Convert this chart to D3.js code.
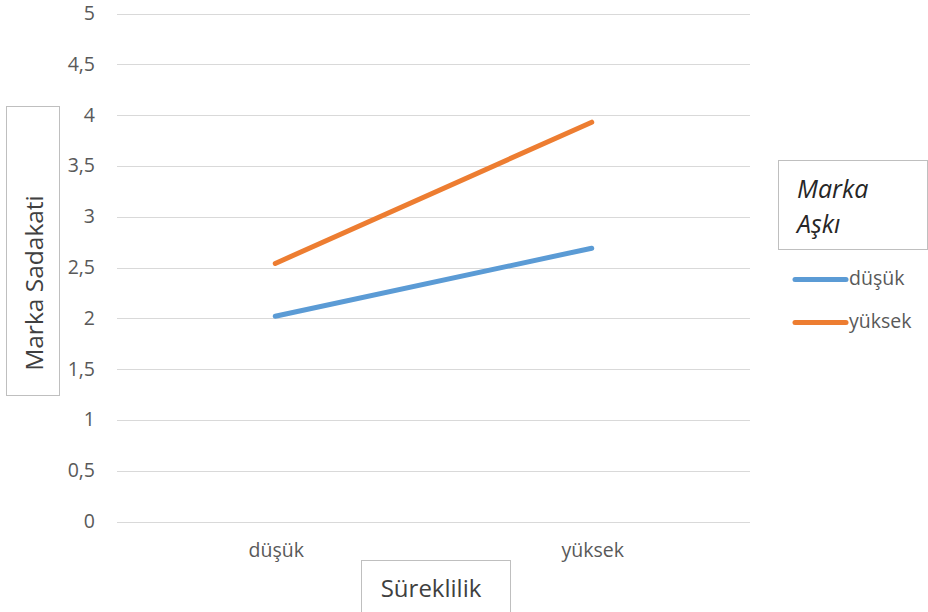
<!DOCTYPE html>
<html>
<head>
<meta charset="utf-8">
<script src="https://cdn.jsdelivr.net/npm/d3@7"></script>
<style>
  html, body { margin: 0; padding: 0; background: #fff; }
  svg { display: block; font-family: "Open Sans", "Noto Sans", sans-serif; }
  .tick-label { fill: #595959; font-size: 19.5px; }
  .box { fill: #fff; stroke: #bfbfbf; stroke-width: 1; }
  .grid line { stroke: #d9d9d9; stroke-width: 1; }
  .series { fill: none; stroke-width: 5; stroke-linecap: round; }
</style>
</head>
<body>
<svg id="chart" width="928" height="612"></svg>
<script>
/* global d3 */

const categories = ["düşük", "yüksek"];
const seriesNames = ["düşük", "yüksek"];
const lowValues = [2.02, 2.69];
const highValues = [2.54, 3.93];
const yTicks = [0, 0.5, 1, 1.5, 2, 2.5, 3, 3.5, 4, 4.5, 5];
const colors = ["#5b9bd5", "#ed7d31"];

const series = [
  { name: seriesNames[0], values: lowValues, color: colors[0] },
  { name: seriesNames[1], values: highValues, color: colors[1] },
];

const svg = d3.select("#chart");
const plot = { left: 117, right: 750, top: 13.5, bottom: 521.5 };

const x = d3.scaleBand().domain(categories).range([plot.left, plot.right]);
const y = d3.scaleLinear().domain([0, 5]).range([plot.bottom, plot.top]);
const fmt = (d) => String(d).replace(".", ",");

// gridlines
svg.append("g")
  .attr("class", "grid")
  .selectAll("line")
  .data(yTicks)
  .join("line")
  .attr("x1", plot.left)
  .attr("x2", plot.right)
  .attr("y1", (d) => Math.round(y(d)) + 0.5)
  .attr("y2", (d) => Math.round(y(d)) + 0.5);

svg.append("g")
  .selectAll("text")
  .data(yTicks)
  .join("text")
  .attr("class", "tick-label")
  .attr("x", 95)
  .attr("y", (d) => y(d) - 1)
  .attr("text-anchor", "end")
  .attr("dominant-baseline", "central")
  .text(fmt);

svg.append("g")
  .selectAll("text")
  .data(categories)
  .join("text")
  .attr("class", "tick-label")
  .attr("x", (d) => x(d) + x.bandwidth() / 2 + 1)
  .attr("y", 549)
  .attr("text-anchor", "middle")
  .attr("dominant-baseline", "central")
  .text((d) => d);

// lines
const line = d3.line()
  .x((d, i) => x(categories[i]) + x.bandwidth() / 2)
  .y((d) => y(d));

svg.append("g")
  .selectAll("path")
  .data(series)
  .join("path")
  .attr("class", "series")
  .attr("stroke", (d) => d.color)
  .attr("d", (d) => line(d.values));

// y axis title box
svg.append("rect").attr("class", "box")
  .attr("x", 6.5).attr("y", 106.5).attr("width", 53).attr("height", 289);
svg.append("text")
  .attr("transform", "translate(33,283) rotate(-90)")
  .attr("text-anchor", "middle")
  .attr("dominant-baseline", "central")
  .attr("fill", "#404040")
  .style("font-size", "24.5px")
  .text("Marka Sadakati");

// x axis title box
svg.append("rect").attr("class", "box")
  .attr("x", 361.5).attr("y", 560.5).attr("width", 149).attr("height", 52);
svg.append("text")
  .attr("x", 431)
  .attr("y", 587)
  .attr("text-anchor", "middle")
  .attr("dominant-baseline", "central")
  .attr("fill", "#404040")
  .style("font-size", "24px")
  .text("Süreklilik");

// legend
svg.append("rect").attr("class", "box")
  .attr("x", 778.5).attr("y", 160.5).attr("width", 149).attr("height", 89);
svg.append("text")
  .attr("x", 797)
  .attr("y", 188)
  .attr("dominant-baseline", "central")
  .attr("fill", "#262626")
  .style("font-size", "25px")
  .style("font-style", "italic")
  .text("Marka");
svg.append("text")
  .attr("x", 797)
  .attr("y", 223)
  .attr("dominant-baseline", "central")
  .attr("fill", "#262626")
  .style("font-size", "25px")
  .style("font-style", "italic")
  .text("Aşkı");

const legendItems = svg.append("g")
  .selectAll("g")
  .data(series)
  .join("g")
  .attr("transform", (d, i) => `translate(0,${279.5 + i * 43})`);

legendItems.append("line")
  .attr("x1", 795).attr("x2", 846)
  .attr("y1", 0).attr("y2", 0)
  .attr("stroke", (d) => d.color)
  .attr("stroke-width", 5)
  .attr("stroke-linecap", "round");

legendItems.append("text")
  .attr("class", "tick-label")
  .attr("x", 849)
  .attr("y", -2)
  .attr("dominant-baseline", "central")
  .text((d) => d.name);
</script>
</body>
</html>
